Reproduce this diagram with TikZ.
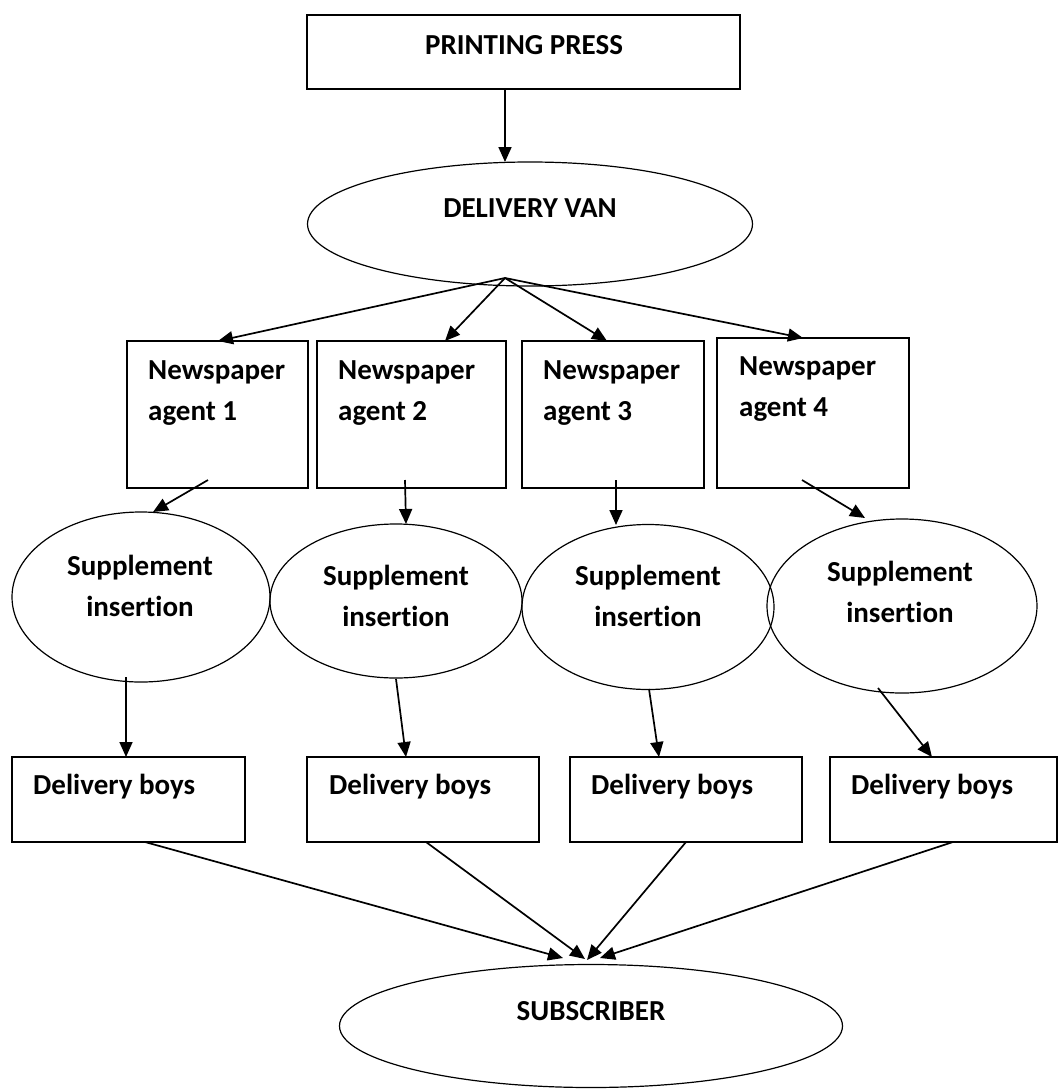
\documentclass[tikz,border=0pt]{standalone}
\usepackage{fontspec}
\setmainfont{Carlito}[Ligatures=NoCommon]
\usetikzlibrary{shapes.geometric,arrows.meta,fit}
\begin{document}
\begin{tikzpicture}[x=1pt,y=-1pt,
  boxshape/.style={draw,line width=1.6pt,inner sep=0pt},
  ovalshape/.style={draw,ellipse,line width=1.2pt,inner sep=0pt},
  lbl/.style={font=\fontsize{29}{41}\selectfont\bfseries,inner sep=0pt,align=left},
  arr/.style={line width=1.7pt,-{Triangle[length=15pt,width=13pt]}}]
\useasboundingbox (0,0) rectangle (1059,1090);
% top
\node[boxshape,fit={(307,15)(740,89)}] (press) {};
\node[lbl] (presst) at (524,45) {PRINTING PRESS};
\node[ovalshape,minimum width=445pt,minimum height=124pt] (van) at (530,224) {};
\node[lbl] (vant) at (530,208) {DELIVERY VAN};
\coordinate (pressout) at (505,89);
\coordinate (vanin) at (505,162);
\draw[arr] (pressout) -- (vanin);
% agents
\node[boxshape,fit={(127,341)(308,488)}] (na1) {};
\node[boxshape,fit={(317,341)(506,488)}] (na2) {};
\node[boxshape,fit={(522,341)(704,488)}] (na3) {};
\node[boxshape,fit={(717,338)(909,488)}] (na4) {};
\node[lbl,anchor=west] (na1t) at (148,393) {Newspaper\\agent 1};
\node[lbl,anchor=west] (na2t) at (338,393) {Newspaper\\agent 2};
\node[lbl,anchor=west] (na3t) at (543,393) {Newspaper\\agent 3};
\node[lbl,anchor=west] (na4t) at (739,389) {Newspaper\\agent 4};
\coordinate (fan) at (505,278);
\coordinate (na1in) at (218,341);
\coordinate (na2in) at (445,341);
\coordinate (na3in) at (607,341);
\coordinate (na4in) at (803,338);
\draw[arr] (fan) -- (na1in);
\draw[arr] (fan) -- (na2in);
\draw[arr] (fan) -- (na3in);
\draw[arr] (fan) -- (na4in);
% supplements
\node[ovalshape,minimum width=258pt,minimum height=170pt] (s1) at (141,597) {};
\node[ovalshape,minimum width=252pt,minimum height=154pt] (s2) at (396,601) {};
\node[ovalshape,minimum width=252pt,minimum height=165pt] (s3) at (648,607) {};
\node[ovalshape,minimum width=270pt,minimum height=174pt] (s4) at (902,606) {};
\node[lbl,align=center] (s1t) at (140,586) {Supplement\\insertion};
\node[lbl,align=center] (s2t) at (396,596) {Supplement\\insertion};
\node[lbl,align=center] (s3t) at (648,596) {Supplement\\insertion};
\node[lbl,align=center] (s4t) at (900,592) {Supplement\\insertion};
\coordinate (na1out) at (208,480);
\coordinate (na2out) at (405,480);
\coordinate (na3out) at (616,480);
\coordinate (na4out) at (802,480);
\coordinate (s1in) at (153,512);
\coordinate (s2in) at (406,524);
\coordinate (s3in) at (616,525);
\coordinate (s4in) at (865,518);
\draw[arr] (na1out) -- (s1in);
\draw[arr] (na2out) -- (s2in);
\draw[arr] (na3out) -- (s3in);
\draw[arr] (na4out) -- (s4in);
% delivery boys
\node[boxshape,fit={(12,757)(245,842)}] (db1) {};
\node[boxshape,fit={(307,757)(539,842)}] (db2) {};
\node[boxshape,fit={(570,757)(802,842)}] (db3) {};
\node[boxshape,fit={(830,757)(1057,842)}] (db4) {};
\node[lbl,anchor=west] (db1t) at (33,787) {Delivery boys};
\node[lbl,anchor=west] (db2t) at (329,787) {Delivery boys};
\node[lbl,anchor=west] (db3t) at (591,787) {Delivery boys};
\node[lbl,anchor=west] (db4t) at (851,787) {Delivery boys};
\coordinate (s1out) at (126,677);
\coordinate (s2out) at (396,679);
\coordinate (s3out) at (649,689);
\coordinate (s4out) at (878,688);
\coordinate (db1in) at (126,757);
\coordinate (db2in) at (406,757);
\coordinate (db3in) at (659,757);
\coordinate (db4in) at (932,757);
\draw[arr] (s1out) -- (db1in);
\draw[arr] (s2out) -- (db2in);
\draw[arr] (s3out) -- (db3in);
\draw[arr] (s4out) -- (db4in);
% subscriber
\node[ovalshape,minimum width=503pt,minimum height=123pt] (sub) at (591,1026) {};
\node[lbl] (subt) at (591,1011) {SUBSCRIBER};
\coordinate (db1out) at (145,842);
\coordinate (db2out) at (426,842);
\coordinate (db3out) at (686,842);
\coordinate (db4out) at (953,842);
\coordinate (sub1) at (563,958);
\coordinate (sub2) at (585,959);
\coordinate (sub3) at (587,960);
\coordinate (sub4) at (600,958);
\draw[arr] (db1out) -- (sub1);
\draw[arr] (db2out) -- (sub2);
\draw[arr] (db3out) -- (sub3);
\draw[arr] (db4out) -- (sub4);
\end{tikzpicture}
\end{document}
